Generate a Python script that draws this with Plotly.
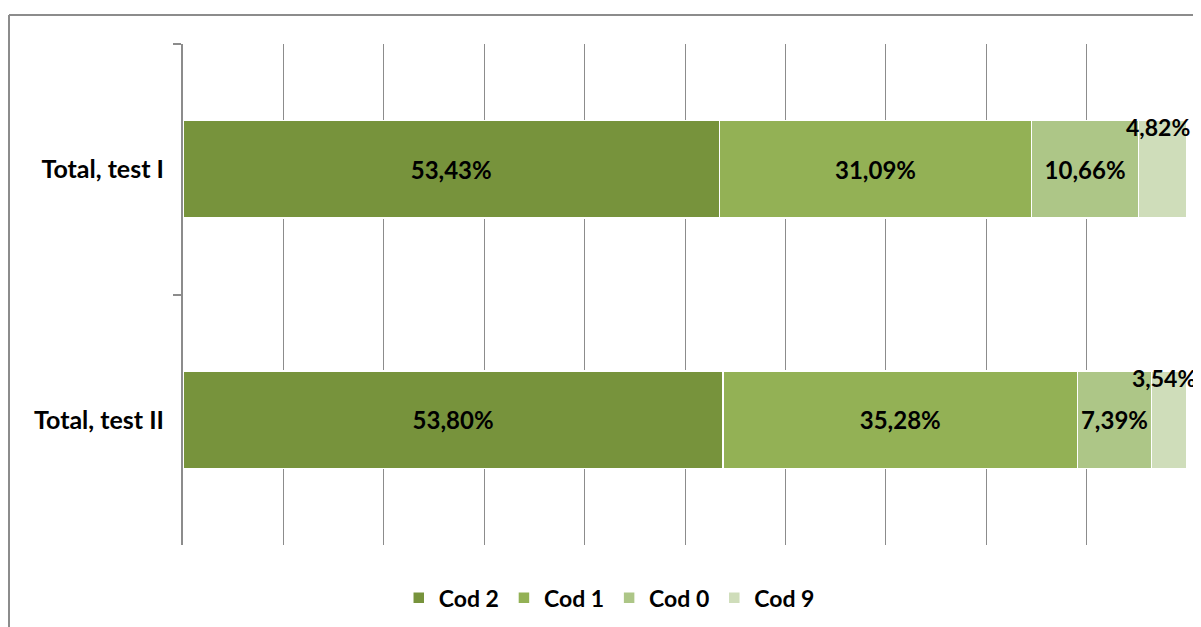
import plotly.graph_objects as go

categories = ["Total, test I", "Total, test II"]
series_names = ["Cod 2", "Cod 1", "Cod 0", "Cod 9"]
cod2 = [53.43, 53.80]
cod1 = [31.09, 35.28]
cod0 = [10.66, 7.39]
cod9 = [4.82, 3.54]
colors = ["#77933C", "#93B155", "#ADC687", "#CFDDBA"]

FONT = "Lato, 'Open Sans', sans-serif"

def fmt(v):
    return f"{v:.2f}".replace(".", ",") + "%"

fig = go.Figure()
all_series = [cod2, cod1, cod0, cod9]
for name, vals, col in zip(series_names, all_series, colors):
    show_text = name != "Cod 9"
    fig.add_trace(go.Bar(
        name=name, y=categories, x=vals, orientation="h",
        marker=dict(color=col, line=dict(color="white", width=1.5)),
        width=0.39,
        text=[fmt(v) for v in vals] if show_text else None,
        textposition="inside" if show_text else "none",
        insidetextanchor="middle",
        textangle=0,
        textfont=dict(family=FONT, size=24, color="black", weight="bold"),
        hoverinfo="skip",
    ))

# small Cod 9 labels placed over the top edge of the segment (as in the reference)
for cat, a, b, c, d in zip(categories, cod2, cod1, cod0, cod9):
    fig.add_annotation(x=a + b + c + d / 2, y=cat, text=fmt(d), showarrow=False,
                       yshift=42, xshift=-5,
                       font=dict(family=FONT, size=23, color="black", weight="bold"))

# chart frame (left and top edges)
fig.add_shape(type="line", xref="paper", yref="paper", x0=-0.1733, x1=1.2, y0=1.0579, y1=1.0579,
              line=dict(color="#8C8C8C", width=2))
fig.add_shape(type="line", xref="paper", yref="paper", x0=-0.1733, x1=-0.1733, y0=1.0579, y1=-0.3,
              line=dict(color="#8C8C8C", width=2))

fig.update_layout(
    barmode="stack",
    width=1193, height=619,
    margin=dict(l=175, r=14, t=36, b=82),
    paper_bgcolor="white", plot_bgcolor="white",
    uniformtext=dict(minsize=24, mode="show"),
    font=dict(family=FONT, size=24, color="black"),
    xaxis=dict(range=[0, 100], dtick=10, showgrid=True, gridcolor="#8C8C8C", gridwidth=1,
               showticklabels=False, zeroline=False, showline=False, ticks=""),
    yaxis=dict(categoryorder="array", categoryarray=categories, autorange="reversed",
               showline=True, linecolor="#8C8C8C", linewidth=2, ticks="outside",
               tickson="boundaries", ticklen=8, tickcolor="#8C8C8C", tickwidth=2,
               showgrid=False, ticklabelstandoff=12,
               tickfont=dict(family=FONT, size=25, color="black", weight="bold")),
    legend=dict(orientation="h", xref="container", yref="container", x=0.504, y=0.047,
                xanchor="center", yanchor="middle", traceorder="normal",
                font=dict(family=FONT, size=23, color="black", weight="bold")),
    showlegend=True,
)

fig.write_html("out.html")
